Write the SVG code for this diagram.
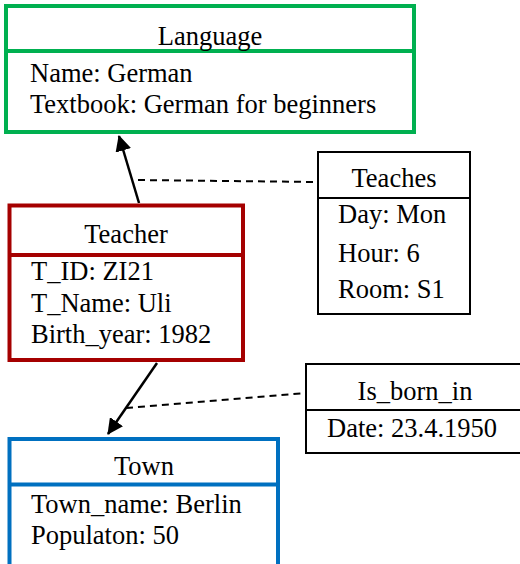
<svg xmlns="http://www.w3.org/2000/svg" width="520" height="564" viewBox="0 0 520 564">
  <style>
    .box { fill: #ffffff; }
    .thick { stroke-width: 4; fill: none; }
    .thin { stroke: #000000; stroke-width: 2; fill: none; }
    .label { font-size: 26.5px; fill: #000000; }
    .title { text-anchor: middle; }
    .edge { stroke: #000000; stroke-width: 2.5; fill: none; }
    .dash { stroke: #000000; stroke-width: 2; stroke-dasharray: 7 5; fill: none; }
    .green { stroke: #00b050; }
    .red { stroke: #a50000; }
    .blue { stroke: #0070c0; }
  </style>
  <defs>
    <marker id="arrow" markerWidth="16" markerHeight="16" viewBox="0 0 16 16" refX="15" refY="8" orient="auto" markerUnits="userSpaceOnUse">
      <path d="M0,0 L16,8 L0,16 Z" fill="#000000"/>
    </marker>
  </defs>
  <rect width="520" height="564" fill="#ffffff"/>

  <!-- connectors -->
  <g id="connectors">
    <line class="edge" x1="139" y1="203" x2="119" y2="136" marker-end="url(#arrow)"/>
    <line class="dash" x1="138" y1="180" x2="317" y2="182"/>
    <line class="edge" x1="157" y1="363" x2="108" y2="434" marker-end="url(#arrow)"/>
    <line class="dash" x1="126" y1="408" x2="305" y2="393"/>
  </g>

  <!-- Language entity -->
  <g id="language" class="label">
    <rect class="box thick green" x="6" y="6" width="408" height="126"/>
    <line class="thick green" x1="6" y1="51" x2="414" y2="51"/>
    <text class="title" font-family="Liberation Serif" x="210" y="45">Language</text>
    <text font-family="Liberation Serif" x="30" y="82">Name: German</text>
    <text font-family="Liberation Serif" x="30" y="113">Textbook: German for beginners</text>
  </g>

  <!-- Teaches relationship -->
  <g id="teaches" class="label">
    <rect class="box thin" x="318" y="152" width="152" height="162"/>
    <line class="thin" x1="318" y1="198" x2="470" y2="198"/>
    <text class="title" font-family="Liberation Serif" x="394" y="187">Teaches</text>
    <text font-family="Liberation Serif" x="338" y="223">Day: Mon</text>
    <text font-family="Liberation Serif" x="338" y="262">Hour: 6</text>
    <text font-family="Liberation Serif" x="338" y="298">Room: S1</text>
  </g>

  <!-- Teacher entity -->
  <g id="teacher" class="label">
    <rect class="box thick red" x="9.5" y="205.5" width="233.5" height="154.5"/>
    <line class="thick red" x1="9.5" y1="255" x2="243" y2="255"/>
    <text class="title" font-family="Liberation Serif" x="126" y="243">Teacher</text>
    <text font-family="Liberation Serif" x="31" y="280">T_ID: ZI21</text>
    <text font-family="Liberation Serif" x="31" y="312">T_Name: Uli</text>
    <text font-family="Liberation Serif" x="31" y="343">Birth_year: 1982</text>
  </g>

  <!-- Is_born_in relationship -->
  <g id="is_born_in" class="label">
    <rect class="box thin" x="306" y="364" width="216" height="89"/>
    <line class="thin" x1="306" y1="410" x2="522" y2="410"/>
    <text class="title" font-family="Liberation Serif" x="415" y="400">Is_born_in</text>
    <text font-family="Liberation Serif" x="327" y="437">Date: 23.4.1950</text>
  </g>

  <!-- Town entity -->
  <g id="town" class="label">
    <rect class="box thick blue" x="9.5" y="439" width="268.5" height="140"/>
    <line class="thick blue" x1="9.5" y1="484.5" x2="278" y2="484.5"/>
    <text class="title" font-family="Liberation Serif" x="144" y="475">Town</text>
    <text font-family="Liberation Serif" x="31" y="513">Town_name: Berlin</text>
    <text font-family="Liberation Serif" x="31" y="544">Populaton: 50</text>
  </g>
</svg>
